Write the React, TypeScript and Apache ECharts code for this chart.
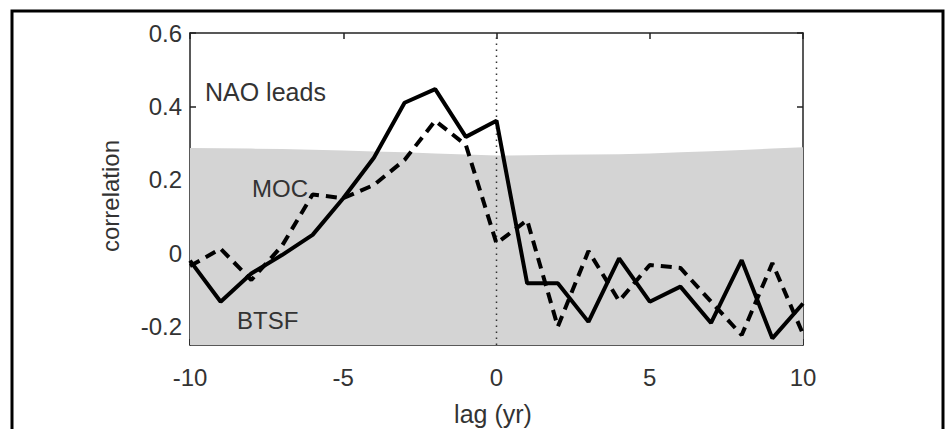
import React, { useEffect, useRef } from "react";
import * as echarts from "echarts";

const lags = [-10, -9, -8, -7, -6, -5, -4, -3, -2, -1, 0, 1, 2, 3, 4, 5, 6, 7, 8, 9, 10];
const solidValues = [-0.02, -0.132, -0.055, -0.005, 0.05, 0.15, 0.26, 0.41, 0.447, 0.317, 0.361, -0.082, -0.082, -0.187, -0.014, -0.132, -0.091, -0.19, -0.019, -0.232, -0.137];
const dashedValues = [-0.035, 0.012, -0.073, 0.02, 0.16, 0.15, 0.186, 0.254, 0.361, 0.295, 0.027, 0.09, -0.2, 0.006, -0.13, -0.032, -0.04, -0.132, -0.223, -0.027, -0.22];
const bandValues = [0.287, 0.286, 0.285, 0.284, 0.282, 0.28, 0.277, 0.275, 0.272, 0.269, 0.266, 0.267, 0.268, 0.269, 0.27, 0.272, 0.275, 0.278, 0.281, 0.285, 0.289];
const yTicks = [-0.2, 0, 0.2, 0.4, 0.6];
const xMin = -10;
const xMax = 10;
const yMin = -0.25;
const yMax = 0.6;

export default function App() {
  const ref = useRef<HTMLDivElement>(null);
  useEffect(() => {
    const chart = echarts.init(ref.current!, null, { renderer: "svg" });
    const font = '"Liberation Sans", Arial, Helvetica, sans-serif';
    const pairs = (vals: number[]) => lags.map((l, i) => [l, vals[i]]);
    const axisLine = { show: true, onZero: false, lineStyle: { color: "#222", width: 1.5 } };
    const tick = { show: true, inside: true, length: 6, lineStyle: { color: "#222", width: 1.5 } };
    chart.setOption({
      animation: false,
      backgroundColor: "#ffffff",
      grid: { left: 190, right: 146, top: 33, bottom: 84 },
      xAxis: [
        {
          type: "value", min: xMin, max: xMax, interval: 5, position: "bottom",
          axisLine, axisTick: tick,
          axisLabel: { margin: 20, color: "#333", fontSize: 24, fontFamily: font },
          splitLine: { show: false },
        },
        {
          type: "value", min: xMin, max: xMax, interval: 5, position: "top",
          axisLine, axisTick: tick, axisLabel: { show: false }, splitLine: { show: false },
        },
      ],
      yAxis: [
        {
          type: "value", min: yMin, max: yMax, position: "left",
          axisLine,
          axisTick: { ...tick, customValues: yTicks },
          axisLabel: { customValues: yTicks, margin: 8, color: "#333", fontSize: 24, fontFamily: font, padding: [6, 0, 0, 0] },
          splitLine: { show: false },
        },
        {
          type: "value", min: yMin, max: yMax, position: "right",
          axisLine,
          axisTick: { ...tick, customValues: yTicks },
          axisLabel: { show: false },
          splitLine: { show: false },
        },
      ],
      series: [
        {
          type: "line", name: "band", data: pairs(bandValues), symbol: "none", silent: true,
          lineStyle: { width: 0 },
          areaStyle: { origin: "start", color: "#d4d4d4", opacity: 1 },
          z: 1,
        },
        {
          type: "line", name: "zero", data: [[0, yMin], [0, yMax]], symbol: "none", silent: true,
          lineStyle: { color: "#333", width: 1.5, type: [1.5, 4.5] },
          z: 2,
        },
        {
          type: "line", name: "MOC", data: pairs(dashedValues), symbol: "none", silent: true,
          lineStyle: { color: "#000", width: 4, type: [11, 7] },
          z: 3,
        },
        {
          type: "line", name: "BTSF", data: pairs(solidValues), symbol: "none", silent: true,
          lineStyle: { color: "#000", width: 4 },
          z: 4,
        },
      ],
      graphic: [
        { type: "text", x: 205, y: 92, style: { text: "NAO leads", fill: "#333", font: `25px ${font}`, textAlign: "left", textVerticalAlign: "middle" }, z: 10 },
        { type: "text", x: 252, y: 188, style: { text: "MOC", fill: "#333", font: `24px ${font}`, textAlign: "left", textVerticalAlign: "middle" }, z: 10 },
        { type: "text", x: 237, y: 320, style: { text: "BTSF", fill: "#333", font: `24px ${font}`, textAlign: "left", textVerticalAlign: "middle" }, z: 10 },
        { type: "text", x: 110, y: 196, rotation: Math.PI / 2, style: { text: "correlation", fill: "#333", font: `24px ${font}`, textAlign: "center", textVerticalAlign: "middle" }, z: 10 },
        { type: "text", x: 493, y: 414, style: { text: "lag (yr)", fill: "#333", font: `25px ${font}`, textAlign: "center", textVerticalAlign: "middle" }, z: 10 },
        { type: "rect", shape: { x: 12, y: 11, width: 931, height: 440 }, style: { fill: "none", stroke: "#000", lineWidth: 3 }, z: 20 },
      ],
    });
    return () => chart.dispose();
  }, []);
  return <div ref={ref} style={{ position: "fixed", left: 0, top: 0, width: 949, height: 429 }} />;
}
